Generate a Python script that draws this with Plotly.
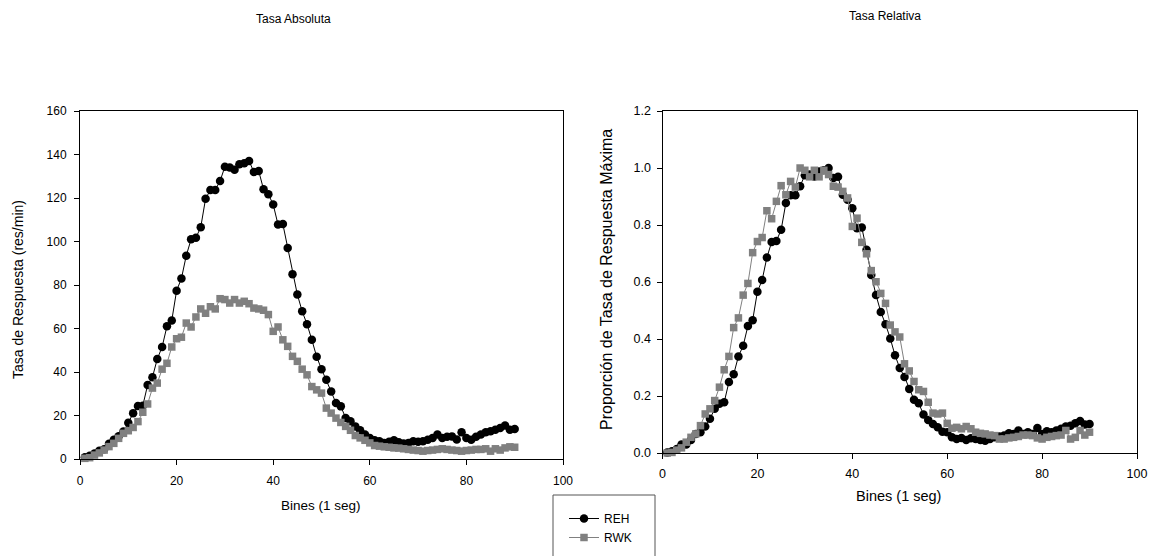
import plotly.graph_objects as go

bins = list(range(1, 91))

reh_abs = [0.8, 1.5, 2.5, 3.8, 4.5, 7.0, 8.8, 10.5, 12.6, 16.7,
           21.0, 24.4, 24.5, 34.0, 37.6, 46.0, 51.5, 61.0, 63.7, 77.4,
           83.0, 93.5, 101.0, 101.7, 106.6, 119.7, 123.7, 123.7, 127.8, 134.4,
           134.0, 133.0, 135.5, 136.0, 137.0, 132.0, 132.4, 124.0, 121.7, 117.0,
           107.8, 108.0, 97.0, 85.0, 75.6, 67.9, 62.0, 54.8, 47.0, 41.3,
           36.4, 31.0, 25.7, 24.2, 18.9, 17.4, 15.0, 13.2, 11.3, 9.7,
           8.6, 8.2, 7.4, 7.9, 8.6, 7.7, 7.1, 7.4, 8.2, 7.9,
           8.2, 8.9, 9.7, 11.3, 9.7, 10.2, 10.4, 9.0, 12.3, 9.7,
           8.9, 10.2, 11.3, 12.3, 12.8, 13.5, 14.3, 15.4, 13.5, 13.8]

rwk_abs = [0.3, 0.6, 1.8, 2.8, 4.1, 5.7, 7.2, 9.5, 11.8, 13.0,
           14.5, 17.2, 21.5, 25.3, 32.6, 34.9, 41.3, 44.0, 51.5, 55.3,
           56.0, 62.5, 60.7, 65.3, 69.0, 67.0, 70.0, 69.0, 73.7, 73.3,
           71.7, 73.3, 71.7, 72.5, 71.4, 69.4, 69.0, 68.4, 66.4, 58.7,
           60.7, 54.8, 51.8, 47.2, 44.9, 41.3, 38.7, 33.3, 31.8, 30.3,
           23.4, 21.1, 18.8, 16.8, 15.0, 13.2, 10.8, 9.7, 8.6, 7.4,
           6.2, 5.9, 5.6, 5.4, 5.1, 5.0, 4.7, 4.4, 4.1, 3.9,
           3.6, 3.9, 4.1, 4.4, 4.7, 4.4, 4.1, 3.9, 3.6, 3.9,
           4.1, 4.4, 4.4, 4.7, 3.6, 4.7, 4.1, 5.1, 5.6, 5.4]

reh_rel = [0.002, 0.006, 0.014, 0.030, 0.030, 0.046, 0.067, 0.073, 0.093, 0.120,
           0.155, 0.173, 0.178, 0.249, 0.276, 0.339, 0.376, 0.446, 0.466, 0.566,
           0.607, 0.686, 0.740, 0.744, 0.783, 0.877, 0.904, 0.904, 0.936, 0.975,
           0.977, 0.970, 0.988, 0.992, 1.000, 0.965, 0.969, 0.906, 0.889, 0.859,
           0.789, 0.791, 0.713, 0.625, 0.554, 0.495, 0.452, 0.402, 0.343, 0.298,
           0.267, 0.225, 0.187, 0.175, 0.135, 0.116, 0.102, 0.090, 0.075, 0.073,
           0.055, 0.049, 0.053, 0.046, 0.052, 0.049, 0.046, 0.043, 0.049, 0.055,
           0.058, 0.061, 0.069, 0.067, 0.079, 0.067, 0.073, 0.067, 0.088, 0.067,
           0.076, 0.073, 0.079, 0.085, 0.093, 0.096, 0.104, 0.112, 0.100, 0.102]

rwk_rel = [0.000, 0.002, 0.010, 0.018, 0.038, 0.055, 0.067, 0.096, 0.137, 0.155,
           0.184, 0.231, 0.292, 0.339, 0.440, 0.474, 0.554, 0.595, 0.703, 0.742,
           0.756, 0.850, 0.822, 0.883, 0.938, 0.906, 0.953, 0.933, 1.000, 0.992,
           0.969, 0.992, 0.969, 0.992, 0.977, 0.936, 0.933, 0.918, 0.895, 0.795,
           0.824, 0.739, 0.699, 0.640, 0.601, 0.560, 0.525, 0.449, 0.425, 0.407,
           0.313, 0.288, 0.251, 0.222, 0.216, 0.178, 0.140, 0.137, 0.140, 0.104,
           0.087, 0.090, 0.085, 0.093, 0.085, 0.073, 0.069, 0.067, 0.063, 0.061,
           0.049, 0.049, 0.053, 0.055, 0.058, 0.063, 0.063, 0.061, 0.053, 0.049,
           0.055, 0.058, 0.061, 0.063, 0.079, 0.049, 0.055, 0.079, 0.063, 0.073]

x_ticks = [0, 20, 40, 60, 80, 100]
abs_ticks = [0, 20, 40, 60, 80, 100, 120, 140, 160]
rel_ticks = [0.0, 0.2, 0.4, 0.6, 0.8, 1.0, 1.2]
rel_tick_labels = ["0.0", "0.2", "0.4", "0.6", "0.8", "1.0", "1.2"]

W, H = 1151, 556
FONT = "Liberation Sans, Arial, sans-serif"
GRAY = "#808080"


def px(v):
    return v / W


def py(v):
    return 1 - v / H


fig = go.Figure()

series = [
    ("REH", reh_abs, reh_rel, "black", "circle", 8.5),
    ("RWK", rwk_abs, rwk_rel, GRAY, "square", 7.5),
]
for name, a, r, col, sym, sz in series:
    fig.add_trace(go.Scatter(
        x=bins, y=a, name=name, mode="lines+markers",
        line=dict(color=col, width=1),
        marker=dict(color=col, symbol=sym, size=sz, line=dict(width=0)),
        cliponaxis=False, xaxis="x", yaxis="y", legendgroup=name,
        showlegend=True))
    fig.add_trace(go.Scatter(
        x=bins, y=r, name=name, mode="lines+markers",
        line=dict(color=col, width=1),
        marker=dict(color=col, symbol=sym, size=sz, line=dict(width=0)),
        cliponaxis=False, xaxis="x2", yaxis="y2", legendgroup=name,
        showlegend=False))


def axis_style(fs, standoff):
    return dict(
        showline=True, linecolor="black", linewidth=1, mirror=True,
        ticks="outside", ticklen=5, tickwidth=1, tickcolor="black",
        showgrid=False, zeroline=False, ticklabelstandoff=standoff,
        automargin=False,
        tickfont=dict(family=FONT, size=fs, color="black"),
    )


fig.update_layout(
    template="none",
    width=W, height=H,
    margin=dict(l=0, r=0, t=0, b=0, pad=0, autoexpand=False),
    paper_bgcolor="white", plot_bgcolor="white",
    font=dict(family=FONT, size=12, color="black"),
    xaxis=dict(domain=[px(80), px(563)], range=[0, 100], tickvals=x_ticks,
               anchor="y", **axis_style(12, 6)),
    yaxis=dict(domain=[py(459), py(111)], range=[0, 160], tickvals=abs_ticks,
               anchor="x", **axis_style(12, 5)),
    xaxis2=dict(domain=[px(662.5), px(1137)], range=[0, 100], tickvals=x_ticks,
                anchor="y2", **axis_style(12.5, 4)),
    yaxis2=dict(domain=[py(453), py(111)], range=[0, 1.2], tickvals=rel_ticks,
                ticktext=rel_tick_labels, anchor="x2", **axis_style(12.5, 3)),
    legend=dict(x=px(564), y=py(504), xanchor="left", yanchor="top",
                xref="container", yref="container",
                bgcolor="rgba(0,0,0,0)", borderwidth=0,
                font=dict(family=FONT, size=12, color="black"),
                tracegroupgap=0, itemwidth=30),
    showlegend=True,
)

fig.add_shape(type="rect", xref="paper", yref="paper",
              x0=px(553), x1=px(655), y0=py(560), y1=py(495),
              line=dict(color="#555555", width=1), fillcolor="rgba(0,0,0,0)")

annots = [
    ("Tasa Absoluta", 293, 19, 0, 12),
    ("Tasa Relativa", 885, 16, 0, 12),
    ("Bines (1 seg)", 321, 505, 0, 13.5),
    ("Bines (1 seg)", 898, 496, 0, 14.5),
    ("Tasa de Respuesta (res/min)", 18, 290, -90, 14),
    ("Proporción de Tasa de Respuesta Máxima", 606, 280, -90, 16),
]
for text, x, y, ang, fs in annots:
    fig.add_annotation(text=text, x=px(x), y=py(y), xref="paper", yref="paper",
                       showarrow=False, textangle=ang, xanchor="center",
                       yanchor="middle",
                       font=dict(family=FONT, size=fs, color="black"))

fig.write_html(
    "out.html",
    config={"displayModeBar": False},
    post_script="document.body.style.margin='0';document.body.style.overflow='hidden';",
)
